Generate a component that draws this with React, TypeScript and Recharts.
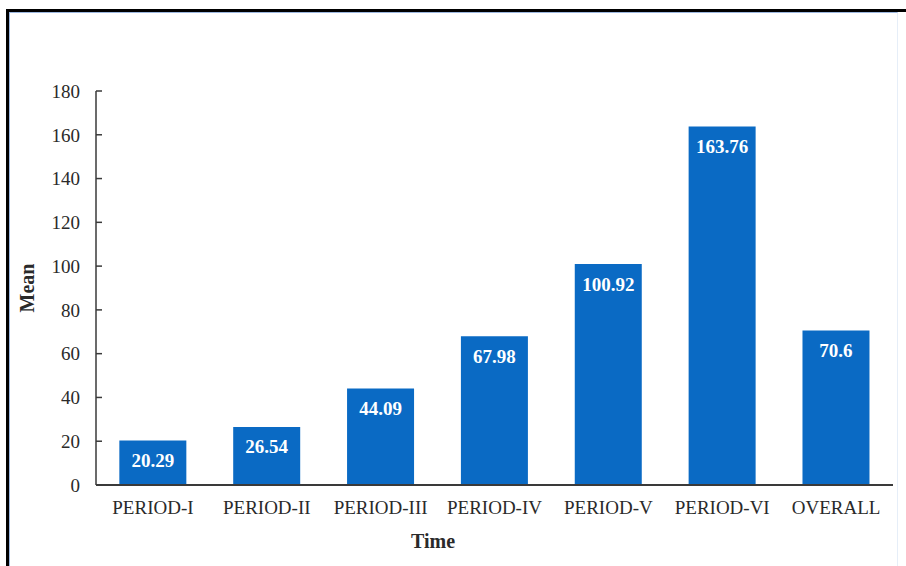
import { Bar, BarChart, XAxis, YAxis, LabelList } from "recharts"

const periods = ["PERIOD-I", "PERIOD-II", "PERIOD-III", "PERIOD-IV", "PERIOD-V", "PERIOD-VI", "OVERALL"]
const means = [20.29, 26.54, 44.09, 67.98, 100.92, 163.76, 70.6]
const yTicks = [0, 20, 40, 60, 80, 100, 120, 140, 160, 180]

const data = periods.map((p, i) => ({ period: p, mean: means[i] }))

const FONT = "'Liberation Serif', 'Times New Roman', serif"
const BAR = "#0A6AC4"

export default function App() {
  return (
    <div style={{ position: "fixed", left: 0, top: 0, width: 906, height: 566, background: "#fff", overflow: "hidden" }}>
      {/* frame of the original figure */}
      <div style={{ position: "absolute", left: 6, top: 9, width: 920, height: 600, borderTop: "3px solid #000", borderLeft: "3px solid #000" }} />
      <div style={{ position: "absolute", left: 9, top: 12, width: 887, height: 600, borderTop: "1px solid #9db8e0", borderLeft: "1px solid #9db8e0", borderRight: "1px solid #e6eef8" }} />
      <div style={{ position: "absolute", left: 0, top: 0 }}>
        <BarChart width={906} height={566} data={data} margin={{ top: 91, right: 13, bottom: 20, left: 0 }} barCategoryGap="20.5%">
          <XAxis
            dataKey="period"
            height={61}
            tickLine={false}
            tickSize={0}
            tickMargin={16}
            axisLine={{ stroke: "#3a3a3a", strokeWidth: 2 }}
            tick={{ fill: "#2a2a2a", fontSize: 19, fontFamily: FONT }}
            interval={0}
            label={{
              content: () => (
                <text x={433} y={541} textAnchor="middle" dominantBaseline="central" fontFamily={FONT} fontSize={20} fontWeight="bold" fill="#2a2a2a">
                  Time
                </text>
              ),
            }}
          />
          <YAxis
            width={96}
            domain={[0, 180]}
            ticks={yTicks}
            interval={0}
            tickSize={-6}
            tickMargin={22}
            axisLine={{ stroke: "#3a3a3a", strokeWidth: 1.5 }}
            tickLine={{ stroke: "#3a3a3a", strokeWidth: 1.5 }}
            tick={{ fill: "#2a2a2a", fontSize: 19, fontFamily: FONT }}
            label={{
              content: () => (
                <text x={27} y={288} transform="rotate(-90 27 288)" textAnchor="middle" dominantBaseline="central" fontFamily={FONT} fontSize={20} fontWeight="bold" fill="#2a2a2a">
                  Mean
                </text>
              ),
            }}
          />
          <Bar dataKey="mean" fill={BAR} isAnimationActive={false}>
            <LabelList dataKey="mean" position="insideTop" offset={13} fill="#fff" fontFamily={FONT} fontSize={19} fontWeight="bold" />
          </Bar>
        </BarChart>
      </div>
    </div>
  )
}
